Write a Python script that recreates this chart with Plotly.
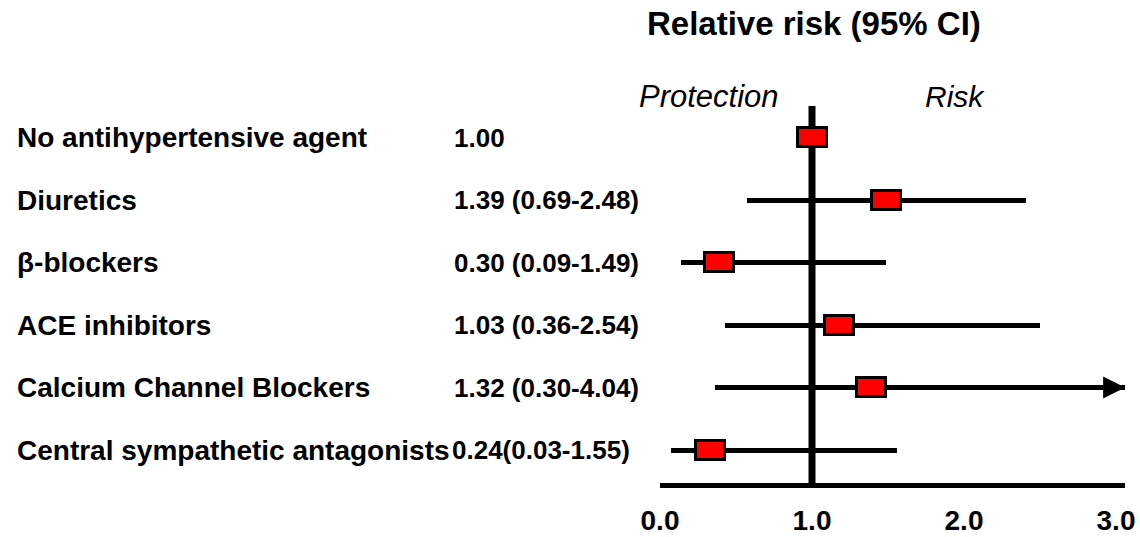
import plotly.graph_objects as go

# ---------------- data ----------------
categories = [
    "No antihypertensive agent",
    "Diuretics",
    "β-blockers",
    "ACE inhibitors",
    "Calcium Channel Blockers",
    "Central sympathetic antagonists",
]
rr_labels = [
    "1.00",
    "1.39 (0.69-2.48)",
    "0.30 (0.09-1.49)",
    "1.03 (0.36-2.54)",
    "1.32 (0.30-4.04)",
    "0.24(0.03-1.55)",
]
# positions of marks as drawn in the picture
estimate = [1.00, 1.49, 0.39, 1.18, 1.39, 0.33]
ci_low = [None, 0.57, 0.14, 0.43, 0.36, 0.07]
ci_high = [None, 2.41, 1.49, 2.50, 4.04, 1.56]
tick_values = [0, 1, 2, 3]
tick_labels = ["0.0", "1.0", "2.0", "3.0"]

# ---------------- layout constants ----------------
W, H = 1140, 537
PX_PER_UNIT = 152.0
X0_PX = 660.0
X_MAX = 3.06
ROW_PX = 62.5
ROW0_PX = 137.5
PLOT_TOP_PX, PLOT_BOT_PX = 100.0, 483.0
Y_TOP = (PLOT_TOP_PX - ROW0_PX) / ROW_PX
Y_BOT = (PLOT_BOT_PX - ROW0_PX) / ROW_PX
BOX_W = 29 / PX_PER_UNIT     # data units
BOX_H = 19 / ROW_PX          # row units
CI_H = 5 / ROW_PX
REF_TOP = (106 - ROW0_PX) / ROW_PX

SANS = "Liberation Sans, Arial, sans-serif"

rows = list(range(len(categories)))

fig = go.Figure()

# confidence interval lines
ci_len = [(h - l) if (h is not None and l is not None) else None for l, h in zip(ci_low, ci_high)]
fig.add_trace(go.Bar(
    orientation="h", y=rows, x=ci_len, base=ci_low, width=CI_H,
    marker=dict(color="black", line=dict(width=0)), opacity=1,
    hoverinfo="skip", showlegend=False,
))
# point estimates (red boxes)
fig.add_trace(go.Bar(
    orientation="h", y=rows, x=[BOX_W] * len(rows),
    base=[e - BOX_W / 2 for e in estimate], width=BOX_H,
    marker=dict(color="#ff0000", line=dict(color="black", width=3)), opacity=1,
    customdata=estimate, hovertemplate="%{customdata}<extra></extra>",
    showlegend=False,
))

# reference line at RR = 1
fig.add_shape(type="line", xref="x", yref="y", x0=1, x1=1, y0=REF_TOP, y1=Y_BOT,
              line=dict(color="black", width=7), layer="below")

# arrow for the truncated CI
arrow_row = 4
fig.add_annotation(x=X_MAX, y=arrow_row, ax=X_MAX - 0.15, ay=arrow_row,
                   xref="x", yref="y", axref="x", ayref="y", text="",
                   showarrow=True, arrowhead=2, arrowwidth=5, arrowsize=0.88,
                   arrowcolor="black")

# row labels and values
for i, (cat, lab) in enumerate(zip(categories, rr_labels)):
    fig.add_annotation(x=15 / W, y=i, xref="paper", yref="y", text=cat,
                       showarrow=False, xanchor="left", yanchor="middle",
                       font=dict(family=SANS, size=28, color="black", weight="bold"))
    fig.add_annotation(x=(450 if i == 5 else 452) / W, y=i, xref="paper", yref="y", text=lab,
                       showarrow=False, xanchor="left", yanchor="middle",
                       font=dict(family=SANS, size=26, color="black", weight="bold"))

# header texts
fig.add_annotation(x=814 / W, y=1 - 24 / H, xref="paper", yref="paper",
                   text="<b>Relative risk (95% CI)</b>", showarrow=False,
                   xanchor="center", yanchor="middle",
                   font=dict(family=SANS, size=33, color="black"))
fig.add_annotation(x=709 / W, y=1 - 97 / H, xref="paper", yref="paper",
                   text="<i>Protection</i>", showarrow=False,
                   xanchor="center", yanchor="middle",
                   font=dict(family=SANS, size=31, color="black"))
fig.add_annotation(x=955 / W, y=1 - 97 / H, xref="paper", yref="paper",
                   text="<i>Risk</i>", showarrow=False,
                   xanchor="center", yanchor="middle",
                   font=dict(family=SANS, size=30, color="black"))

fig.update_layout(
    width=W, height=H,
    margin=dict(l=0, r=0, t=0, b=0, autoexpand=False),
    paper_bgcolor="white", plot_bgcolor="white",
    barmode="overlay", bargap=0,
    showlegend=False,
    xaxis=dict(
        domain=[X0_PX / W, (X0_PX + PX_PER_UNIT * X_MAX) / W],
        range=[0, X_MAX], showgrid=False, zeroline=False,
        showline=True, linecolor="black", linewidth=5,
        tickvals=tick_values, ticktext=tick_labels, ticks="",
        ticklabelstandoff=8, automargin=False,
        tickfont=dict(family=SANS, size=28, color="black", weight="bold"),
        fixedrange=True,
    ),
    yaxis=dict(
        domain=[1 - PLOT_BOT_PX / H, 1 - PLOT_TOP_PX / H],
        range=[Y_BOT, Y_TOP], visible=False, fixedrange=True, automargin=False,
    ),
)

fig.write_html("out.html", config={"displayModeBar": False},
               post_script="document.body.style.margin='0';document.body.style.overflow='hidden';")
